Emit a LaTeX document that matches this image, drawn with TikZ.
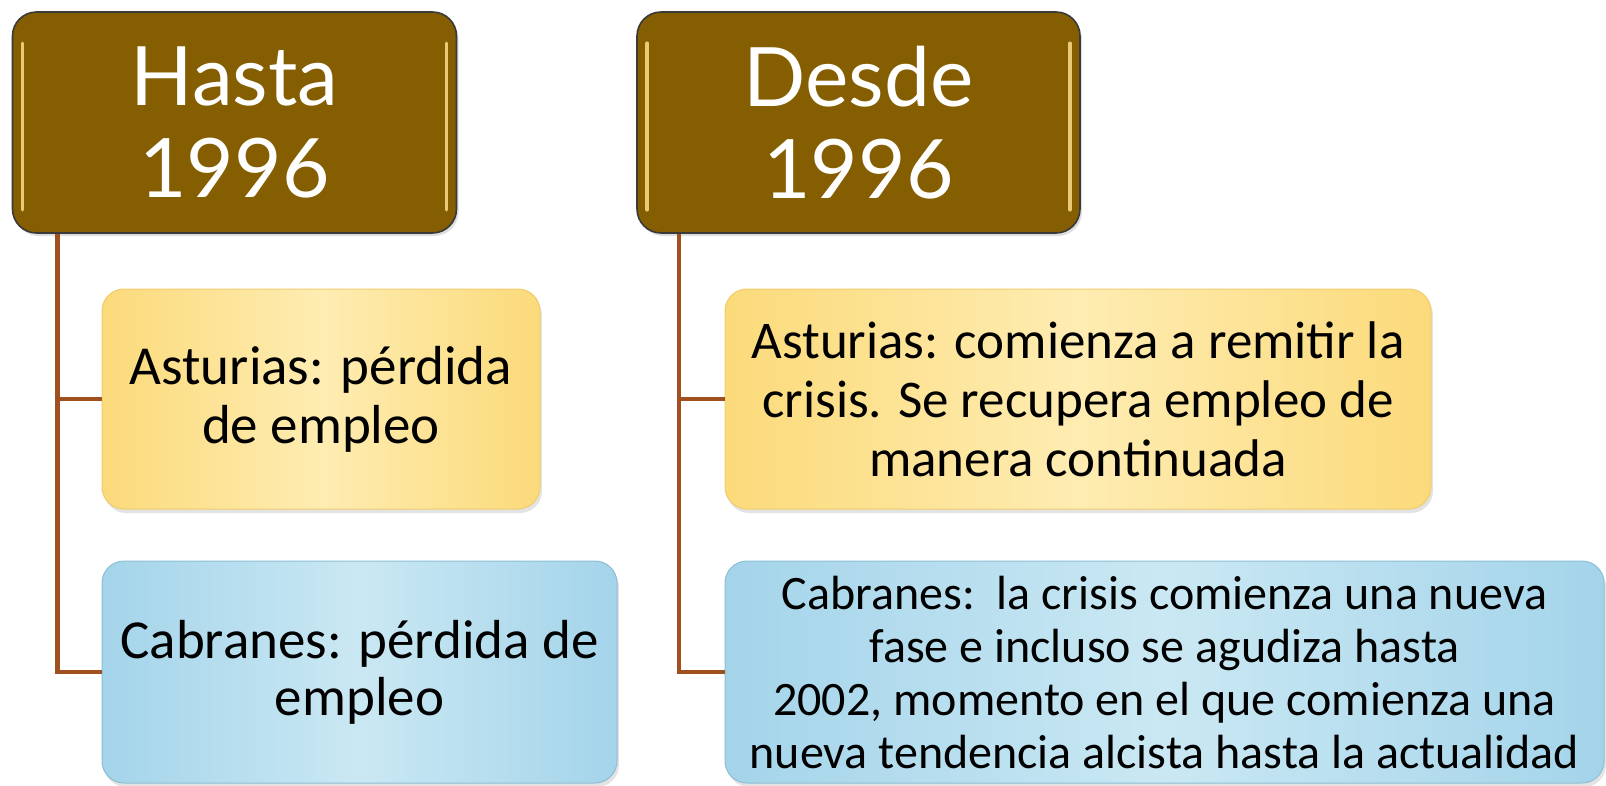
\documentclass[tikz,border=0pt]{standalone}
\usepackage{fontspec}
\setmainfont{Carlito}
\newfontfamily\hdfont{Lato}
\usetikzlibrary{shadows,calc}
\definecolor{hdfill}{RGB}{132,94,0}
\definecolor{hdline}{RGB}{58,58,58}
\definecolor{hdglow}{RGB}{246,214,130}
\definecolor{yedge}{RGB}{251,218,122}
\definecolor{ymid}{RGB}{254,236,178}
\definecolor{yline}{RGB}{240,204,110}
\definecolor{bedge}{RGB}{164,212,234}
\definecolor{bmid}{RGB}{202,232,243}
\definecolor{bline}{RGB}{140,190,212}
\definecolor{conncol}{RGB}{160,80,30}
\tikzset{
  hdbox/.style={draw=hdline, line width=1.6pt, fill=hdfill, rounded corners=24pt,
    text=white, align=center, inner sep=0pt,
    font=\hdfont\fontsize{82}{92}\selectfont,
    drop shadow={opacity=0.25, shadow xshift=2pt, shadow yshift=-3pt}},
  ybox/.style={draw=yline, line width=1pt, left color=yedge, right color=yedge, middle color=ymid,
    rounded corners=22pt, align=center, inner sep=0pt, text=black,
    drop shadow={opacity=0.22, shadow xshift=2pt, shadow yshift=-4pt}},
  bbox/.style={draw=bline, line width=1pt, left color=bedge, right color=bedge, middle color=bmid,
    rounded corners=22pt, align=center, inner sep=0pt, text=black,
    drop shadow={opacity=0.22, shadow xshift=2pt, shadow yshift=-4pt}},
  conn/.style={draw=conncol, line width=4.5pt},
  glow/.style={draw=hdglow, line width=3.5pt, line cap=round, opacity=0.9}
}
\begin{document}
\begin{tikzpicture}[x=1pt,y=-1pt]
\useasboundingbox (0,0) rectangle (1606,785);

% headers
\node[hdbox, minimum width=444pt, minimum height=221pt] (h1) at (234.5,122.5) {Hasta\\1996};
\node[hdbox, minimum width=443pt, minimum height=221pt] (h2) at (858.5,122.5) {Desde\\1996};

% highlights on header edges
\draw[glow] ($(h1.north west)+(11,32)$) -- ($(h1.south west)+(11,-24)$);
\draw[glow] ($(h1.north east)+(-11,32)$) -- ($(h1.south east)+(-11,-24)$);
\draw[glow] ($(h2.north west)+(11,32)$) -- ($(h2.south west)+(11,-24)$);
\draw[glow] ($(h2.north east)+(-11,32)$) -- ($(h2.south east)+(-11,-24)$);

% child boxes
\node[ybox, minimum width=438pt, minimum height=220pt, font=\fontsize{55}{59}\selectfont] (y1) at (321,399)
  {Asturias: pérdida\\de empleo};
\node[bbox, minimum width=515pt, minimum height=222pt, font=\fontsize{55}{57}\selectfont] (b1) at (359.5,672)
  {Cabranes: pérdida de\\empleo};
\node[ybox, minimum width=706pt, minimum height=220pt, font=\fontsize{53}{59}\selectfont] (y2) at (1078,399)
  {Asturias: comienza a remitir la\\crisis. Se recupera empleo de\\manera continuada};
\node[bbox, minimum width=879pt, minimum height=222pt, font=\fontsize{48}{53}\selectfont] (b2) at (1164.5,672)
  {Cabranes:\ \ la crisis comienza una nueva\\fase e incluso se agudiza hasta\\2002, momento en el que comienza una\\nueva tendencia alcista hasta la actualidad};

% connectors
\coordinate (s1) at ($(h1.south west)+(46,0)$);
\coordinate (s2) at ($(h2.south west)+(43,0)$);
\draw[conn] (s1) |- (y1.west);
\draw[conn] (s1) |- (b1.west);
\draw[conn] (s2) |- (y2.west);
\draw[conn] (s2) |- (b2.west);
\end{tikzpicture}
\end{document}
